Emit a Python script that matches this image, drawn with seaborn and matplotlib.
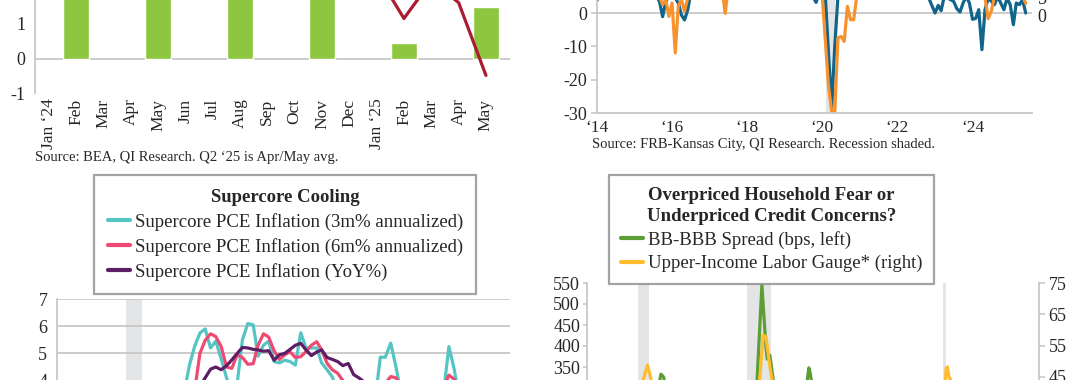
import pandas as pd
import matplotlib
matplotlib.use("Agg")
import matplotlib.pyplot as plt
import seaborn as sns

W, H = 1080, 380

# ---- top left: quarterly bars with a monthly line
p1_labels = ["Jan \u201824", "Feb", "Mar", "Apr", "May", "Jun", "Jul", "Aug", "Sep",
             "Oct", "Nov", "Dec", "Jan \u201825", "Feb", "Mar", "Apr", "May"]
p1_bar_month = [1, 4, 7, 10, 13, 16]
p1_bar_vals = [2.6, 2.9, 2.4, 2.7, 0.45, 1.5]
p1_line_vals = [2.7, 2.9, 3.1, 2.8, 2.6, 2.9, 3.2, 2.8, 2.5, 2.6, 2.9, 3.0,
                2.46, 1.16, 2.25, 1.62, -0.49]
p1_yticks = [-1, 0, 1, 2, 3]

# ---- top right: two survey series, 2014-2025
p2_blue_dates = ["2014-01", "2014-04", "2014-09", "2015-03", "2015-07", "2015-09", "2015-10",
                 "2015-11", "2015-12", "2016-02", "2016-03", "2016-04", "2016-05", "2016-06",
                 "2016-07", "2016-12", "2017-06", "2018-01", "2018-09", "2019-04", "2019-10",
                 "2019-11", "2019-12", "2020-02", "2020-03", "2020-04", "2020-05", "2020-06",
                 "2020-07", "2021-03", "2022-01", "2022-08", "2022-11", "2023-01", "2023-02",
                 "2023-03", "2023-04", "2023-07", "2023-08", "2023-09", "2023-10", "2023-11",
                 "2023-12", "2024-01", "2024-02", "2024-03", "2024-04", "2024-05", "2024-06",
                 "2024-08", "2024-09", "2024-10", "2024-11", "2024-12", "2025-01", "2025-02",
                 "2025-03", "2025-04", "2025-05", "2025-06"]
p2_blue = [3.8, 10, 14, 9, 7, 3.4, -1.1,
           3.4, 5, 4.5, 3, -0.6, -2.1, 0.9,
           6, 12, 10, 15, 12, 9, 5,
           3.2, 6, 4, -12, -28.5, -10, 5,
           8, 25, 15, 8, 4.5, 0, 2.3,
           0.7, 5, 3.5, 1.3, 0.3, 3.0, 5,
           3.0, -1.9, -1.6, 1.0, -11, 1.0, 4.5,
           2.5, 5, 3, 1, 4.5, 2.5, -3.5,
           3, 2.5, 4, 0]
p2_orange_dates = ["2014-01", "2014-06", "2015-01", "2015-07", "2015-09", "2015-10", "2015-11",
                   "2015-12", "2016-01", "2016-02", "2016-03", "2016-04", "2016-05", "2016-06",
                   "2016-09", "2017-02", "2017-05", "2017-06", "2017-07", "2018-03", "2019-03",
                   "2019-10", "2020-01", "2020-02", "2020-03", "2020-04", "2020-05", "2020-06",
                   "2020-07", "2020-08", "2020-09", "2020-10", "2020-11", "2020-12", "2021-06",
                   "2022-06", "2023-01", "2023-09", "2024-03", "2024-05", "2024-06", "2024-07",
                   "2024-08", "2025-01", "2025-05", "2025-06"]
p2_orange = [8, 12, 10, 6, 5, 2.5, 4,
             -1, 3, -12, 2, 4, 0.5, 4.5,
             9, 11, 7, -0.1, 8, 14, 10,
             7, 5, -9, -22, -29.5, -30, -7.5,
             -7, -8.5, 2, -2, -2, 5, 22,
             14, 6, 5, 6, 4.5, -1.7, 0.5,
             5, 7, 5, 2.9]
p2_years = [2014, 2016, 2018, 2020, 2022, 2024]
p2_yticks = [-30, -20, -10, 0, 10]
p2_recession = ("2020-02", "2020-05")

# ---- bottom left: supercore PCE inflation, monthly from Nov 2020
p3_start = "2020-11-01"
p3_3m = [2.5, 3.0, 3.6, 4.6, 5.25, 5.75, 5.9, 5.2, 5.45, 4.8,
         4.1, 3.6, 3.9, 5.5, 6.1, 6.05, 4.9, 5.3, 5.45, 4.7,
         4.65, 4.75, 4.7, 4.57, 5.76, 5.2, 5.2, 5.2, 4.65, 4.4,
         4.14, 3.6, 3.3, 3.0, 2.8, 2.9, 3.2, 3.4, 3.2, 4.86,
         4.86, 5.38, 4.5, 3.5, 3.0, 2.7, 2.5, 2.6, 2.9, 3.1,
         3.3, 3.7, 5.25, 4.4, 3.3, 3.0]
p3_6m = [2.0, 2.5, 2.9, 3.3, 3.6, 5.0, 5.48, 5.72, 5.62, 5.25,
         4.5, 4.45, 4.95, 4.85, 4.6, 4.62, 5.3, 5.72, 5.6, 5.1,
         4.78, 4.95, 5.06, 4.85, 4.88, 5.06, 5.3, 5.43, 5.13, 4.64,
         4.4, 4.27, 4.0, 3.7, 3.5, 3.3, 3.2, 3.3, 3.5, 3.7,
         3.9, 4.15, 4.1, 3.8, 3.4, 3.1, 2.9, 2.8, 2.9, 3.0,
         3.3, 3.8, 4.2, 4.05, 3.6, 3.2]
p3_yoy = [1.8, 2.1, 2.5, 2.9, 3.4, 3.8, 4.1, 4.42, 4.5, 4.4,
          4.55, 4.76, 5.0, 5.22, 5.2, 5.15, 5.13, 5.08, 5.1, 4.75,
          4.95, 5.0, 5.15, 5.3, 5.37, 5.13, 4.92, 5.05, 5.13, 4.85,
          4.78, 4.7, 4.55, 4.63, 4.22, 4.1, 3.95, 3.8, 3.7, 3.75,
          3.7, 3.6, 3.55, 3.45, 3.4, 3.35, 3.3, 3.25, 3.2, 3.25,
          3.3, 3.2, 3.3, 3.25, 3.1, 3.0]
p3_labels = ["Supercore PCE Inflation (3m% annualized)",
             "Supercore PCE Inflation (6m% annualized)",
             "Supercore PCE Inflation (YoY%)"]
p3_recession = ("2020-02", "2020-05")

# ---- bottom right: BB-BBB spread vs upper-income labor gauge
p4_green_dates = ["1998-01", "1999-06", "2000-06", "2001-03", "2001-10", "2002-03", "2002-06",
                  "2002-08", "2002-10", "2002-12", "2003-06", "2004-06", "2005-06", "2006-06",
                  "2007-06", "2008-01", "2008-07", "2008-11", "2009-02", "2009-03", "2009-05",
                  "2009-07", "2009-09", "2010-06", "2011-06", "2011-08", "2011-10", "2011-11",
                  "2012-01", "2013-06", "2015-06", "2016-02", "2017-06", "2019-06", "2020-04",
                  "2020-08", "2022-06", "2024-06", "2025-06"]
p4_green = [120, 150, 200, 240, 280, 260, 300,
            333, 326, 290, 220, 150, 120, 110,
            130, 200, 290, 545, 398, 369, 378,
            331, 280, 250, 280, 300, 348, 335,
            290, 200, 220, 300, 180, 160, 300,
            200, 200, 120, 130]
p4_yellow_dates = ["1998-01", "2000-06", "2001-03", "2001-06", "2001-10", "2002-01", "2002-06",
                   "2004-06", "2007-06", "2008-03", "2008-09", "2008-12", "2009-02", "2009-05",
                   "2009-07", "2010-06", "2013-06", "2016-06", "2019-06", "2020-01", "2020-03",
                   "2020-04", "2020-05", "2020-06", "2020-07", "2020-09", "2022-06", "2025-06"]
p4_yellow = [35, 33, 38, 43, 48.8, 43.5, 40,
             32, 30, 36, 42, 58.4, 57.8, 48.3,
             43, 38, 33, 30, 28, 35, 41,
             47.7, 48.2, 45, 44.5, 40, 30, 33]
p4_labels = ["BB-BBB Spread (bps, left)", "Upper-Income Labor Gauge* (right)"]
p4_left_ticks = [300, 350, 400, 450, 500, 550]
p4_right_ticks = [35, 45, 55, 65, 75]
p4_recessions = [("2001-03", "2001-11"), ("2007-12", "2009-06"), ("2020-02", "2020-04")]

GREEN_BAR = "#8DC63F"
DARK_RED = "#A91D32"
BLUE = "#11648A"
ORANGE = "#F7922E"
CYAN = "#55C5C3"
PINK = "#EE4A72"
PURPLE = "#5C1F66"
GREEN = "#5C9E34"
YELLOW = "#FDBD2E"
GRID = "#C8C8C8"
SHADE = "#E4E5E7"
TXT = "#262626"

sns.set_style("white")
plt.rcParams["font.family"] = ["Liberation Serif", "DejaVu Serif"]
plt.rcParams["text.color"] = TXT
plt.rcParams["xtick.color"] = GRID
plt.rcParams["ytick.color"] = GRID
plt.rcParams["xtick.labelcolor"] = TXT
plt.rcParams["ytick.labelcolor"] = TXT

fig = plt.figure(figsize=(W / 100, H / 100), dpi=100)


def px_axes(left, top, right, bottom):
    return fig.add_axes([left / W, 1 - bottom / H, (right - left) / W, (bottom - top) / H])


def style_spines(ax, keep):
    for side, sp in ax.spines.items():
        sp.set_visible(side in keep)
        sp.set_color(GRID)
        sp.set_linewidth(1.3)


def boxed_legend(ax, handles, labels, title, anchor, spacing, pad):
    leg = ax.legend(handles, labels, loc="upper left", bbox_to_anchor=anchor,
                    bbox_transform=fig.transFigure, borderaxespad=0, title=title,
                    title_fontproperties={"weight": "bold", "size": 13.5},
                    fontsize=13.5, frameon=True, fancybox=False,
                    handlelength=1.2, handletextpad=0.25, labelspacing=spacing,
                    borderpad=pad, alignment="center")
    leg.get_title().set_multialignment("center")
    leg.get_title().set_linespacing(1.35)
    leg.get_frame().set_edgecolor("#8C8C8C")
    leg.get_frame().set_linewidth(1.6)
    for ln in leg.get_lines():
        ln.set_linewidth(3)
    return leg


# ---------------- panel 1
ax1 = px_axes(35, 93 - 5 * 34.5, 510, 93)
sns.barplot(x=p1_bar_month, y=p1_bar_vals, order=list(range(len(p1_labels))),
            color=GREEN_BAR, saturation=1, width=0.95, ax=ax1)
sns.lineplot(x=list(range(len(p1_labels))), y=p1_line_vals, color=DARK_RED, lw=2.3, ax=ax1)
ax1.axhline(0, color=GRID, lw=1.3, zorder=0)
ax1.set_xlim(-0.5, 16.88)
ax1.set_ylim(-1, 4)
ax1.set_xticks(range(len(p1_labels)))
ax1.set_xticklabels(p1_labels, rotation=90, fontsize=12.5)
ax1.set_yticks(p1_yticks)
ax1.set_yticklabels([str(v) for v in p1_yticks], fontsize=13)
ax1.tick_params(axis="x", length=0, pad=4)
ax1.tick_params(axis="y", length=4, width=1.2, pad=3)
ax1.set_xlabel("")
ax1.set_ylabel("")
style_spines(ax1, ["left"])
fig.text(35 / W, 1 - 157 / H, "Source: BEA, QI Research. Q2 \u201825 is Apr/May avg.",
         fontsize=10.5, va="center", ha="left")

# ---------------- panel 2
ax2 = px_axes(597, 113 - 50 * 3.333, 1032, 113)
ax2.axvspan(pd.Timestamp(p2_recession[0]), pd.Timestamp(p2_recession[1]),
            color=SHADE, lw=0, zorder=0)
sns.lineplot(x=pd.to_datetime(p2_blue_dates), y=p2_blue, color=BLUE, lw=2.3, ax=ax2)
sns.lineplot(x=pd.to_datetime(p2_orange_dates), y=p2_orange, color=ORANGE, lw=2.3, ax=ax2)
ax2.axhline(0, color=GRID, lw=1.3, zorder=0.5)
ax2.set_xlim(pd.Timestamp("2014-01-01"), pd.Timestamp("2025-08-01"))
ax2.set_ylim(-30, 20)
ax2.set_xticks([pd.Timestamp(f"{y}-01-01") for y in p2_years])
ax2.set_xticklabels([f"\u2018{str(y)[2:]}" for y in p2_years], fontsize=12.5)
ax2.set_yticks(p2_yticks)
ax2.set_yticklabels([str(v) for v in p2_yticks], fontsize=13)
ax2.tick_params(axis="x", length=0, pad=5)
ax2.tick_params(axis="y", length=4, width=1.2, pad=3)
ax2.set_xlabel("")
ax2.set_ylabel("")
style_spines(ax2, ["left", "bottom"])
ax2r = ax2.twinx()
ax2r.set_ylim(-27.2, 19.1)
ax2r.set_yticks([0, 5])
ax2r.set_yticklabels(["0", "5"], fontsize=13)
ax2r.tick_params(axis="y", length=0, pad=4)
style_spines(ax2r, [])
fig.text(592 / W, 1 - 144 / H,
         "Source: FRB-Kansas City, QI Research. Recession shaded.",
         fontsize=10.5, va="center", ha="left")

# ---------------- panel 3
ax3 = px_axes(57, 299, 510, 299 + 7 * 27.2)
p3_dates = pd.date_range(p3_start, periods=len(p3_3m), freq="MS")
ax3.axvspan(pd.Timestamp(p3_recession[0]), pd.Timestamp(p3_recession[1]),
            color=SHADE, lw=0, zorder=0)
for vals, col, lab in zip([p3_3m, p3_6m, p3_yoy], [CYAN, PINK, PURPLE], p3_labels):
    sns.lineplot(x=p3_dates, y=vals, color=col, lw=2.3, label=lab, ax=ax3)
ax3.set_xlim(pd.Timestamp("2019-01-01"), pd.Timestamp("2026-02-15"))
ax3.set_ylim(0, 7)
ax3.set_yticks(range(0, 8))
ax3.set_yticklabels([str(v) for v in range(0, 8)], fontsize=13)
ax3.yaxis.grid(True, color=GRID, lw=1.3)
ax3.set_axisbelow(True)
ax3.tick_params(axis="y", length=4, width=1.2, pad=3)
ax3.tick_params(axis="x", length=0)
ax3.set_xticklabels([])
ax3.set_xlabel("")
ax3.set_ylabel("")
style_spines(ax3, ["left"])
boxed_legend(ax3, ax3.get_lines()[:3], p3_labels, "Supercore Cooling",
             (94 / W, 1 - 175 / H), 0.38, 0.72)

# ---------------- panel 4
ax4 = px_axes(587, 283, 1039, 283 + 550 * 0.42)
for start, end in p4_recessions:
    ax4.axvspan(pd.Timestamp(start), pd.Timestamp(end), color=SHADE, lw=0, zorder=0)
sns.lineplot(x=pd.to_datetime(p4_green_dates), y=p4_green, color=GREEN, lw=2.3,
             label=p4_labels[0], ax=ax4, legend=False)
ax4.set_xlim(pd.Timestamp("1998-01-01"), pd.Timestamp("2026-01-01"))
ax4.set_ylim(0, 550)
ax4.set_yticks(p4_left_ticks)
ax4.set_yticklabels([str(v) for v in p4_left_ticks], fontsize=13)
ax4.tick_params(axis="y", length=3, width=1.2, pad=2)
ax4.tick_params(axis="x", length=0)
ax4.set_xticklabels([])
ax4.set_xlabel("")
ax4.set_ylabel("")
style_spines(ax4, ["left"])
ax4r = ax4.twinx()
sns.lineplot(x=pd.to_datetime(p4_yellow_dates), y=p4_yellow, color=YELLOW, lw=2.3,
             label=p4_labels[1], ax=ax4r, legend=False)
ax4r.set_ylim(75 - 231 / 3.133, 75)
ax4r.set_yticks(p4_right_ticks)
ax4r.set_yticklabels([str(v) for v in p4_right_ticks], fontsize=13)
ax4r.tick_params(axis="y", length=4, width=1.2, pad=3)
ax4r.set_ylabel("")
style_spines(ax4r, ["right"])
boxed_legend(ax4r, ax4.get_lines()[:1] + ax4r.get_lines()[:1], p4_labels,
             "Overpriced Household Fear or\nUnderpriced Credit Concerns?",
             (609 / W, 1 - 175 / H), 0.32, 0.62)

fig.savefig("out.png", dpi=100)
